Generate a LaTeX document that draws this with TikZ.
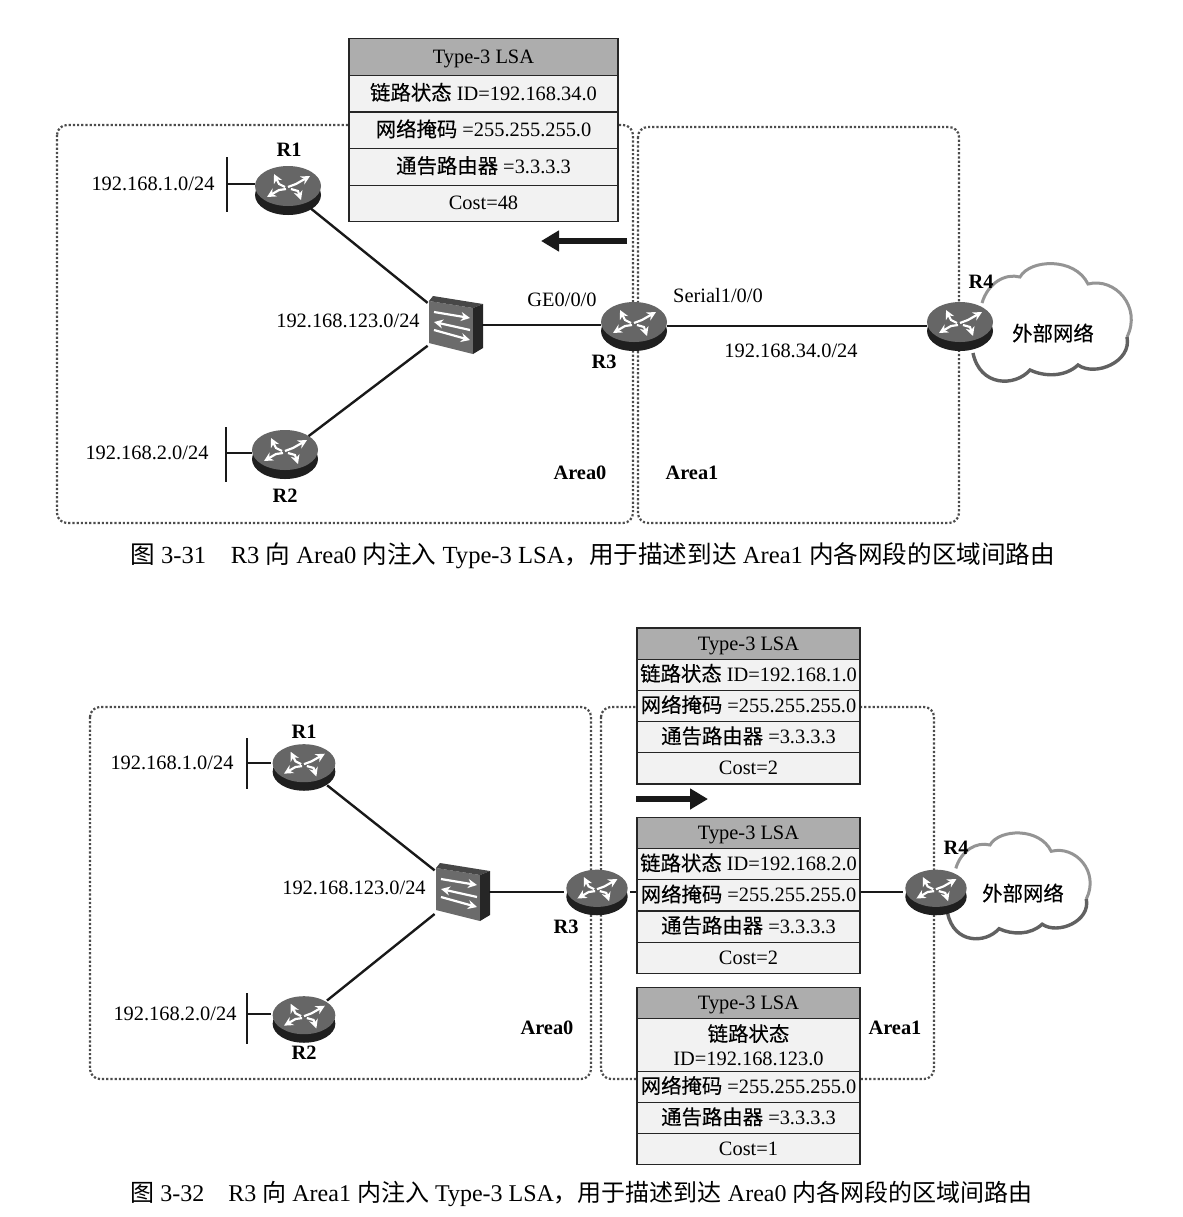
\documentclass[tikz,border=0pt]{standalone}
\usepackage{fontspec}
\setmainfont{Liberation Serif}
\newfontfamily\cjk{Noto Sans CJK SC}
\newfontfamily\cjkb[FakeBold=0.25]{Noto Sans CJK SC}
\usetikzlibrary{shapes.geometric, arrows.meta, positioning}
\newcommand{\zh}[1]{{\cjk #1}}
\newcommand{\zb}[1]{{\cjkb #1}}
\tikzset{
  txt/.style={inner sep=0pt, font=\fontsize{10.2}{12}\selectfont},
  name label/.style={inner sep=0pt, font=\fontsize{10.2}{12}\selectfont\bfseries},
  area/.style={draw=black!70, densely dotted, line width=1.1pt, rounded corners=5pt},
  link/.style={draw=black!90, line width=1.2pt},
  stub/.style={draw=black!90, line width=1.1pt},
  bigarrow/.style={draw=black!90, line width=3.4pt, -{Triangle[length=9pt,width=10pt]}},
  lsahead/.style={draw=black!85, fill=black!32, line width=0.6pt, inner sep=0pt, outer sep=0pt,
                  align=center, font=\fontsize{10.2}{12}\selectfont},
  lsarow/.style={draw=black!85, fill=black!5, line width=0.6pt, inner sep=0pt, outer sep=0pt,
                 align=center, font=\fontsize{10.2}{12}\selectfont},
  wide/.style={minimum width=134.5pt},
  narrow/.style={minimum width=111.5pt},
  tall/.style={minimum height=18.3pt, text height=8pt, text depth=1.5pt},
  short/.style={minimum height=15.6pt, text height=8pt, text depth=1.5pt},
  routernode/.style={ellipse, minimum width=33pt, minimum height=25pt, inner sep=0pt},
  switchnode/.style={rectangle, minimum width=27pt, minimum height=28pt, inner sep=0pt},
  cloudline/.style={draw=black!42, line width=1.5pt},
  cloudlow/.style={draw=black!62, line width=1.7pt},
  routerarrow/.style={white, line width=1.1pt, -{Stealth[length=4.5pt,width=4.5pt]}},
}
\newcommand{\routericon}[4]{
  \node[routernode] (#1) at (#2,#3) {};
  \begin{scope}[shift={(#2,#3)}, scale=#4]
    \fill[black!88] (0,5) ellipse [x radius=16.5pt, y radius=10pt];
    \fill[black!60] (0,-4) ellipse [x radius=16.5pt, y radius=10pt];
    \draw[routerarrow] (0,-3) -- (8,-6) -- (22,-14);
    \draw[routerarrow] (-2,-1) -- (-9,0) -- (-21,7);
    \draw[routerarrow] (-3,-3) -- (-9,-6) -- (-14,-16);
    \draw[routerarrow] (3,-1) -- (10,1) -- (13,10);
  \end{scope}
}
\newcommand{\switchicon}[3]{
  \node[switchnode] (#1) at (#2,#3) {};
  \begin{scope}[shift={(#2,#3)}]
    \fill[black!58] (-26,-24) -- (18,-17) -- (18,29) -- (-26,18) -- cycle;
    \fill[black!72] (-26,-24) -- (-22,-29) -- (28,-21) -- (18,-17) -- cycle;
    \fill[black!85] (18,-17) -- (28,-21) -- (28,23) -- (18,29) -- cycle;
    \draw[routerarrow] (-21,-13) -- (15,-7);
    \draw[routerarrow] (15,5) -- (-21,-3);
    \draw[routerarrow] (-21,5) -- (15,15);
  \end{scope}
}
\newcommand{\cloudoutline}[3]{
  \begin{scope}[shift={(#1,#2)}, scale=#3]
    \fill[white] (22,-24) .. controls (28,-44) and (45,-54) .. (60,-50)
      .. controls (70,-68) and (115,-70) .. (128,-43)
      .. controls (155,-50) and (182,-20) .. (167,10)
      .. controls (172,35) and (135,50) .. (118,38)
      .. controls (105,50) and (85,50) .. (70,43)
      .. controls (55,60) and (20,60) .. (13,26) -- cycle;
    \draw[cloudline] (22,-24) .. controls (28,-44) and (45,-54) .. (60,-50)
      .. controls (70,-68) and (115,-70) .. (128,-43)
      .. controls (155,-50) and (182,-20) .. (167,10);
    \draw[cloudlow] (167,10) .. controls (172,35) and (135,50) .. (118,38)
      .. controls (105,50) and (85,50) .. (70,43)
      .. controls (55,60) and (20,60) .. (13,26);
  \end{scope}
}
\begin{document}
\begin{tikzpicture}[x=0.5pt,y=-0.5pt]
\useasboundingbox (0,0) rectangle (1183,1217);

% upper figure
\draw[area] (57,125) rectangle (633,523);
\draw[area] (638,127) rectangle (959,523);

\cloudoutline{960}{327}{1}
\routericon{upR1}{288}{190}{1}
\routericon{upR2}{285}{454}{1}
\routericon{upR3}{634}{326}{1}
\routericon{upR4}{960}{326}{1}
\switchicon{upSW}{455}{325}

\draw[link] (upR1) -- (upSW);
\draw[link] (upR2) -- (upSW);
\draw[link] (upSW) -- (upSW -| upR3.west);
\draw[link] (upR3) -- (upR4);

\coordinate (upS1a) at (227,157);
\coordinate (upS1b) at (227,212);
\coordinate (upS1c) at (227,184);
\coordinate (upS2a) at (226,427);
\coordinate (upS2b) at (226,482);
\coordinate (upS2c) at (226,453);
\draw[stub] (upS1a) -- (upS1b);
\draw[stub] (upS1c) -- (upS1c -| upR1.west);
\draw[stub] (upS2a) -- (upS2b);
\draw[stub] (upS2c) -- (upS2c -| upR2.west);

\node[txt] (upN1) at (153,184) {192.168.1.0/24};
\node[txt] (upN2) at (147,453) {192.168.2.0/24};
\node[txt] (upN3) at (348,321) {192.168.123.0/24};
\node[txt] (upN4) at (791,351) {192.168.34.0/24};
\node[txt] (upGE) at (562,300) {GE0/0/0};
\node[txt] (upSer) at (718,296) {Serial1/0/0};
\node[name label] (upL1) at (289,150) {R1};
\node[name label] (upL2) at (285,496) {R2};
\node[name label] (upL3) at (604,362) {R3};
\node[name label] (upL4) at (981,282) {R4};
\node[name label] (upA0) at (580,473) {Area0};
\node[name label] (upA1) at (692,473) {Area1};
\node[txt] (upNet) at (1053,333) {\zb{外部网络}};

\node[lsahead, wide, tall] (a0) at (483.5,57) {Type-3 LSA};
\node[lsarow, wide, tall, below=0pt of a0] (a1) {\zb{链路状态} ID=192.168.34.0};
\node[lsarow, wide, tall, below=0pt of a1] (a2) {\zb{网络掩码} =255.255.255.0};
\node[lsarow, wide, tall, below=0pt of a2] (a3) {\zb{通告路由器} =3.3.3.3};
\node[lsarow, wide, tall, below=0pt of a3] (a4) {Cost=48};

\coordinate (upArrS) at (627,241);
\coordinate (upArrE) at (541,241);
\draw[bigarrow] (upArrS) -- (upArrE);

\node[txt, anchor=west, font=\fontsize{12.3}{14}\selectfont] (cap1) at (130,556) {\zh{图} 3-31\quad R3 \zh{向} Area0 \zh{内注入} Type-3 LSA\zh{，用于描述到达} Area1 \zh{内各网段的区域间路由}};

% lower figure
\draw[area] (90,707) rectangle (591,1079);
\draw[area] (601,707) rectangle (934,1079);

\cloudoutline{936}{890}{0.9}
\routericon{loR1}{304}{767}{0.95}
\routericon{loR2}{304}{1019}{0.95}
\routericon{loR3}{597}{892}{0.93}
\routericon{loR4}{936}{892}{0.93}
\switchicon{loSW}{462}{892}

\draw[link] (loR1) -- (loSW);
\draw[link] (loR2) -- (loSW);
\draw[link] (loSW) -- (loR3);
\draw[link] (loR3) -- (loR4);

\coordinate (loS1a) at (247,738);
\coordinate (loS1b) at (247,789);
\coordinate (loS1c) at (247,763);
\coordinate (loS2a) at (247,993);
\coordinate (loS2b) at (247,1044);
\coordinate (loS2c) at (247,1014);
\draw[stub] (loS1a) -- (loS1b);
\draw[stub] (loS1c) -- (loS1c -| loR1.west);
\draw[stub] (loS2a) -- (loS2b);
\draw[stub] (loS2c) -- (loS2c -| loR2.west);

\node[txt] (loN1) at (172,763) {192.168.1.0/24};
\node[txt] (loN2) at (175,1014) {192.168.2.0/24};
\node[txt] (loN3) at (354,888) {192.168.123.0/24};
\node[name label] (loL1) at (304,732) {R1};
\node[name label] (loL2) at (304,1053) {R2};
\node[name label] (loL3) at (566,927) {R3};
\node[name label] (loL4) at (956,848) {R4};
\node[name label] (loA0) at (547,1028) {Area0};
\node[name label] (loA1) at (895,1028) {Area1};
\node[txt] (loNet) at (1023,893) {\zb{外部网络}};

\node[lsahead, narrow, short] (b0) at (748.5,643.5) {Type-3 LSA};
\node[lsarow, narrow, short, below=0pt of b0] (b1) {\zb{链路状态} ID=192.168.1.0};
\node[lsarow, narrow, short, below=0pt of b1] (b2) {\zb{网络掩码} =255.255.255.0};
\node[lsarow, narrow, short, below=0pt of b2] (b3) {\zb{通告路由器} =3.3.3.3};
\node[lsarow, narrow, short, below=0pt of b3] (b4) {Cost=2};

\node[lsahead, narrow, short] (c0) at (748.5,833) {Type-3 LSA};
\node[lsarow, narrow, short, below=0pt of c0] (c1) {\zb{链路状态} ID=192.168.2.0};
\node[lsarow, narrow, short, below=0pt of c1] (c2) {\zb{网络掩码} =255.255.255.0};
\node[lsarow, narrow, short, below=0pt of c2] (c3) {\zb{通告路由器} =3.3.3.3};
\node[lsarow, narrow, short, below=0pt of c3] (c4) {Cost=2};

\node[lsahead, narrow, short] (d0) at (748.5,1003) {Type-3 LSA};
\node[lsarow, narrow, minimum height=26.3pt, below=0pt of d0] (d1) {\zb{链路状态}\\ID=192.168.123.0};
\node[lsarow, narrow, short, below=0pt of d1] (d2) {\zb{网络掩码} =255.255.255.0};
\node[lsarow, narrow, short, below=0pt of d2] (d3) {\zb{通告路由器} =3.3.3.3};
\node[lsarow, narrow, short, below=0pt of d3] (d4) {Cost=1};

\coordinate (loArrS) at (636,799);
\coordinate (loArrE) at (708,799);
\draw[bigarrow] (loArrS) -- (loArrE);

\node[txt, anchor=west, font=\fontsize{12}{14}\selectfont] (cap2) at (130,1194) {\zh{图} 3-32\quad R3 \zh{向} Area1 \zh{内注入} Type-3 LSA\zh{，用于描述到达} Area0 \zh{内各网段的区域间路由}};
\end{tikzpicture}
\end{document}
